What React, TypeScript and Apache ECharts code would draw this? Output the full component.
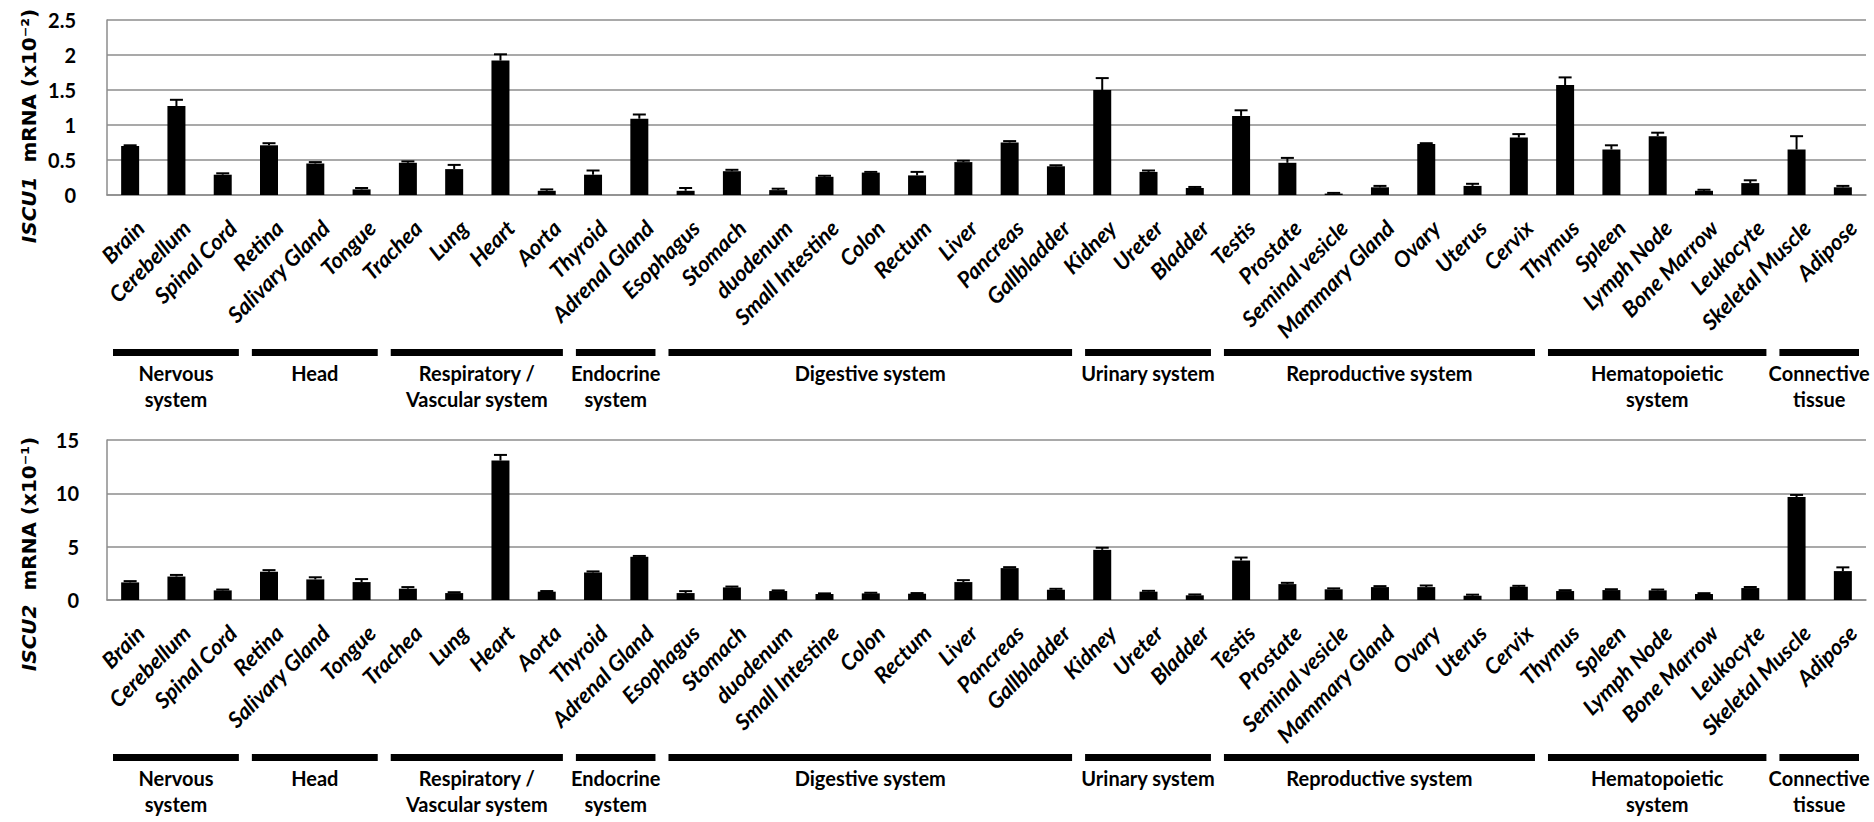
import React, { useEffect, useRef } from "react";
import * as echarts from "echarts";

// Tissue panel: categories shared by both genes
const categories = [
  "Brain", "Cerebellum", "Spinal Cord", "Retina", "Salivary Gland", "Tongue",
  "Trachea", "Lung", "Heart", "Aorta", "Thyroid", "Adrenal Gland",
  "Esophagus", "Stomach", "duodenum", "Small Intestine", "Colon", "Rectum",
  "Liver", "Pancreas", "Gallbladder", "Kidney", "Ureter", "Bladder",
  "Testis", "Prostate", "Seminal vesicle", "Mammary Gland", "Ovary", "Uterus",
  "Cervix", "Thymus", "Spleen", "Lymph Node", "Bone Marrow", "Leukocyte",
  "Skeletal Muscle", "Adipose",
];

// ISCU1 mRNA (x10^-2): mean and SD
const iscu1 = [
  0.70, 1.27, 0.29, 0.71, 0.45, 0.08, 0.46, 0.37, 1.92, 0.06, 0.29, 1.09,
  0.06, 0.34, 0.07, 0.26, 0.32, 0.28, 0.47, 0.75, 0.41, 1.50, 0.33, 0.10,
  1.13, 0.46, 0.02, 0.11, 0.73, 0.13, 0.82, 1.57, 0.65, 0.84, 0.06, 0.17,
  0.65, 0.11,
];
const iscu1Err = [
  0.01, 0.09, 0.02, 0.03, 0.02, 0.02, 0.02, 0.06, 0.09, 0.02, 0.06, 0.06,
  0.04, 0.02, 0.02, 0.015, 0.01, 0.05, 0.02, 0.02, 0.015, 0.17, 0.02, 0.015,
  0.08, 0.07, 0.01, 0.02, 0.01, 0.03, 0.05, 0.11, 0.06, 0.05, 0.015, 0.04,
  0.19, 0.02,
];

// ISCU2 mRNA (x10^-1): mean and SD
const iscu2 = [
  1.65, 2.2, 0.9, 2.65, 1.93, 1.68, 1.06, 0.65, 13.07, 0.78, 2.58, 4.05,
  0.65, 1.18, 0.84, 0.56, 0.62, 0.59, 1.68, 2.99, 0.96, 4.7, 0.78, 0.44,
  3.7, 1.49, 1.0, 1.21, 1.21, 0.4, 1.24, 0.84, 0.93, 0.9, 0.56, 1.12,
  9.65, 2.71,
];
const iscu2Err = [
  0.12, 0.15, 0.08, 0.15, 0.2, 0.28, 0.15, 0.08, 0.53, 0.06, 0.1, 0.08,
  0.18, 0.08, 0.06, 0.06, 0.06, 0.06, 0.18, 0.09, 0.09, 0.2, 0.08, 0.08,
  0.28, 0.12, 0.09, 0.09, 0.15, 0.1, 0.09, 0.08, 0.08, 0.08, 0.08, 0.1,
  0.2, 0.35,
];

// Organ-system groups (first and last category index of each)
const groupNames = [
  "Nervous\nsystem", "Head", "Respiratory /\nVascular system", "Endocrine\nsystem",
  "Digestive system", "Urinary system", "Reproductive system",
  "Hematopoietic\nsystem", "Connective\ntissue",
];
const groupStart = [0, 3, 6, 10, 12, 21, 24, 31, 36];
const groupEnd = [2, 5, 9, 11, 20, 23, 30, 35, 37];

// Y axis settings
const yMax = [2.5, 15];
const yInterval = [0.5, 5];

const GRID_COLOR = "#8c8c8c";
const LABEL_FONT = "Lato";

function panelSeries(k: number, values: number[], errs: number[]) {
  return [
    {
      type: "bar",
      xAxisIndex: k,
      yAxisIndex: k,
      data: values,
      barWidth: 18,
      itemStyle: { color: "#000" },
      z: 2,
    },
    // upper error bars
    {
      type: "custom",
      xAxisIndex: k,
      yAxisIndex: k,
      z: 3,
      data: values.map((v, i) => [i, v, errs[i]]),
      renderItem: (params: any, api: any) => {
        const x = api.value(0);
        const v = api.value(1);
        const e = api.value(2);
        const p0 = api.coord([x, v]);
        const p1 = api.coord([x, v + e]);
        return {
          type: "group",
          children: [
            {
              type: "line",
              shape: { x1: p0[0], y1: p0[1], x2: p1[0], y2: p1[1] },
              style: { stroke: "#000", lineWidth: 2 },
            },
            {
              type: "line",
              shape: { x1: p1[0] - 6.5, y1: p1[1], x2: p1[0] + 6.5, y2: p1[1] },
              style: { stroke: "#000", lineWidth: 2 },
            },
          ],
        };
      },
    },
    // tissue names, slanted at 45 degrees under each bar
    {
      type: "custom",
      xAxisIndex: k,
      yAxisIndex: k,
      clip: false,
      silent: true,
      data: categories.map((c, i) => [i, 0]),
      renderItem: (params: any, api: any) => {
        const i = params.dataIndex;
        const p = api.coord([i, 0]);
        return {
          type: "text",
          x: p[0] + 10,
          y: p[1] + 29,
          rotation: Math.PI / 4,
          style: {
            text: categories[i],
            fill: "#000",
            font: `italic bold 22px ${LABEL_FONT}`,
            align: "right",
            verticalAlign: "middle",
            textAlign: "right",
            textVerticalAlign: "middle",
          },
        };
      },
    },
    // organ-system bars and names
    {
      type: "custom",
      xAxisIndex: k,
      yAxisIndex: k,
      clip: false,
      silent: true,
      data: groupStart.map((s) => [s, 0]),
      renderItem: (params: any, api: any) => {
        const i = params.dataIndex;
        const band = api.size([1, 0])[0];
        const a = api.coord([groupStart[i], 0]);
        const b = api.coord([groupEnd[i], 0]);
        const x0 = a[0] - band / 2 + 6;
        const x1 = b[0] + band / 2 - 7;
        const y0 = a[1];
        return {
          type: "group",
          children: [
            {
              type: "rect",
              shape: { x: x0, y: y0 + 154, width: x1 - x0, height: 7 },
              style: { fill: "#000" },
            },
            {
              type: "text",
              x: (x0 + x1) / 2,
              y: y0 + 165,
              style: {
                text: groupNames[i],
                fill: "#000",
                font: `bold 20px ${LABEL_FONT}`,
                align: "center",
                verticalAlign: "top",
                textAlign: "center",
                textVerticalAlign: "top",
                lineHeight: 26,
              },
            },
          ],
        };
      },
    },
  ];
}

function axisTitle(x: number, y: number, gene: string, scale: string) {
  return {
    type: "text",
    x,
    y,
    rotation: Math.PI / 2,
    style: {
      text: `{i|${gene}}{n|  mRNA (x10${scale})}`,
      align: "center",
      verticalAlign: "middle",
      textAlign: "center",
      textVerticalAlign: "middle",
      fill: "#000",
      font: "bold 20px DejaVu Sans",
      rich: {
        i: { fontFamily: "DejaVu Sans", fontWeight: "bold", fontStyle: "italic", fontSize: 20, color: "#000" },
        n: { fontFamily: "DejaVu Sans", fontWeight: "bold", fontSize: 20, color: "#000" },
      },
    },
  };
}

function buildOption() {
  const grids = [
    { left: 107, right: 8, top: 20, height: 175, outerBoundsMode: "none" },
    { left: 107, right: 8, top: 440, height: 160, outerBoundsMode: "none" },
  ];
  const xAxes = [0, 1].map((k) => ({
    gridIndex: k,
    type: "category",
    data: categories,
    axisLine: { show: true, lineStyle: { color: GRID_COLOR, width: 1.5 } },
    axisTick: { show: false },
    axisLabel: { show: false },
  }));
  const yAxes = [0, 1].map((k) => ({
    gridIndex: k,
    type: "value",
    min: 0,
    max: yMax[k],
    interval: yInterval[k],
    axisLine: { show: true, lineStyle: { color: GRID_COLOR, width: 1.5 } },
    axisTick: { show: false },
    splitLine: { show: true, lineStyle: { color: GRID_COLOR, width: 1.5 } },
    axisLabel: {
      margin: k === 0 ? 31 : 28,
      color: "#000",
      fontFamily: LABEL_FONT,
      fontWeight: "bold",
      fontSize: 20,
    },
  }));
  return {
    animation: false,
    backgroundColor: "#fff",
    grid: grids,
    xAxis: xAxes,
    yAxis: yAxes,
    series: [
      ...panelSeries(0, iscu1, iscu1Err),
      ...panelSeries(1, iscu2, iscu2Err),
    ],
    graphic: [
      axisTitle(29, 126, "ISCU1", "\u207B\u00B2"),
      axisTitle(29, 554, "ISCU2", "\u207B\u00B9"),
    ],
  };
}

export default function App() {
  const ref = useRef<HTMLDivElement>(null);
  useEffect(() => {
    if (!ref.current) return;
    const chart = echarts.init(ref.current, null, { renderer: "svg" });
    chart.setOption(buildOption() as any);
    return () => chart.dispose();
  }, []);
  return (
    <div
      ref={ref}
      style={{ position: "fixed", left: 0, top: 0, width: 1874, height: 822, background: "#fff" }}
    />
  );
}
